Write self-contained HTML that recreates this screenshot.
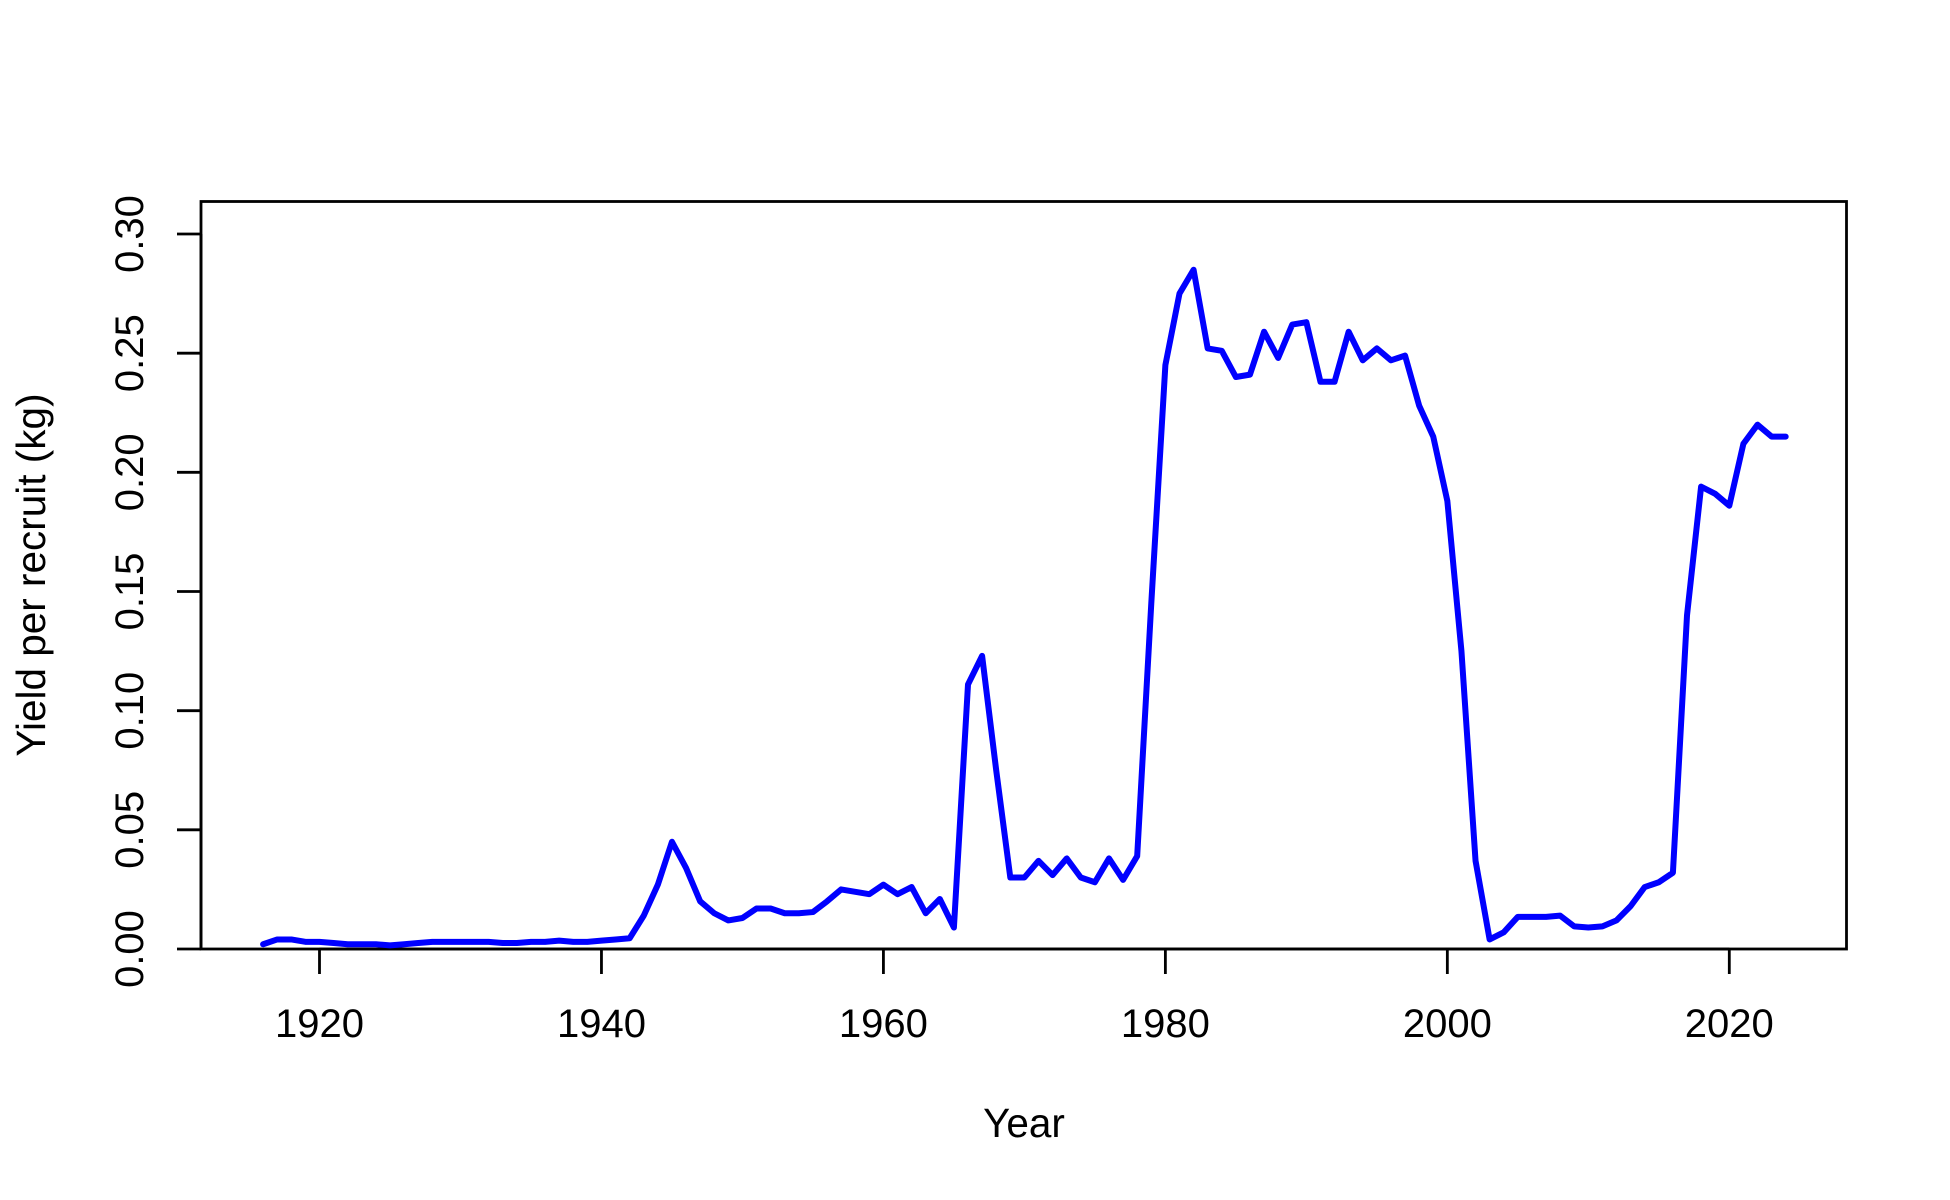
<!DOCTYPE html>
<html><head><meta charset="utf-8"><style>
html,body{margin:0;padding:0;background:#fff;}
svg{display:block;font-family:"Liberation Sans",Arial,sans-serif;}
</style></head><body>
<svg id="chart" width="1950" height="1200" viewBox="0 0 1950 1200" xmlns="http://www.w3.org/2000/svg">
<rect x="201" y="201.5" width="1645.5" height="747.5" fill="none" stroke="#000" stroke-width="2.8"/>
<g id="xaxis"></g>
<g id="yaxis"></g>
<text x="1024" y="1137" font-size="40.5" text-anchor="middle">Year</text>
<text transform="translate(45,575) rotate(-90)" font-size="40.5" text-anchor="middle">Yield per recruit (kg)</text>
<path id="series" fill="none" stroke="#0000ff" stroke-width="6" stroke-linejoin="round" stroke-linecap="round"/>
</svg>
<script>
const startYear = 1916;
const yieldValues = [0.002,0.004,0.004,0.003,0.003,0.0025,0.002,0.002,0.002,0.0015,0.002,0.0025,0.003,0.003,0.003,0.003,0.003,0.0025,0.0025,0.003,0.003,0.0035,0.003,0.003,0.0035,0.004,0.0045,0.014,0.027,0.045,0.034,0.020,0.015,0.012,0.013,0.017,0.017,0.015,0.015,0.0155,0.020,0.025,0.024,0.023,0.027,0.023,0.026,0.015,0.021,0.009,0.111,0.123,0.075,0.030,0.030,0.037,0.031,0.038,0.030,0.028,0.038,0.029,0.039,0.145,0.245,0.275,0.285,0.252,0.251,0.240,0.241,0.259,0.248,0.262,0.263,0.238,0.238,0.259,0.247,0.252,0.247,0.249,0.228,0.215,0.188,0.125,0.037,0.004,0.007,0.0135,0.0135,0.0135,0.014,0.0095,0.009,0.0095,0.012,0.018,0.026,0.028,0.032,0.140,0.194,0.191,0.186,0.212,0.220,0.215,0.215];
const xTicks = [1920,1940,1960,1980,2000,2020];
const yTicks = [0.00,0.05,0.10,0.15,0.20,0.25,0.30];
const yTickLabels = ["0.00","0.05","0.10","0.15","0.20","0.25","0.30"];

function xs(yr){ return 319.5 + (yr-1920)*(1729.3-319.5)/100; }
function ys(v){ return 949 - v*(949-234)/0.30; }
const NS="http://www.w3.org/2000/svg";
const xa=document.getElementById('xaxis'), ya=document.getElementById('yaxis');
let d='';
d+='M'+xs(xTicks[0])+' 949 H'+xs(xTicks[xTicks.length-1]);
xTicks.forEach(t=>{
  d+=' M'+xs(t)+' 949 V974';
  const tx=document.createElementNS(NS,'text');
  
  
  tx.setAttribute('x',xs(t));tx.setAttribute('y',1037);
  tx.setAttribute('font-size','40');tx.setAttribute('text-anchor','middle');
  tx.textContent=t;xa.appendChild(tx);
});
const xp=document.createElementNS(NS,'path');


xp.setAttribute('d',d);xp.setAttribute('stroke','#000');xp.setAttribute('stroke-width','2.8');xp.setAttribute('fill','none');
xa.appendChild(xp);
let dy='M201 '+ys(yTicks[0])+' V'+ys(yTicks[yTicks.length-1]);
yTicks.forEach((t,i)=>{
  dy+=' M201 '+ys(t)+' H177';
  const tx=document.createElementNS(NS,'text');
  
  
  tx.setAttribute('transform','translate(143,'+ys(t)+') rotate(-90)');
  tx.setAttribute('font-size','40');tx.setAttribute('text-anchor','middle');
  tx.textContent=yTickLabels[i];ya.appendChild(tx);
});
const yp=document.createElementNS(NS,'path');


yp.setAttribute('d',dy);yp.setAttribute('stroke','#000');yp.setAttribute('stroke-width','2.8');yp.setAttribute('fill','none');
ya.appendChild(yp);
document.getElementById('series').setAttribute('d',
  yieldValues.map((v,i)=>(i?'L':'M')+xs(startYear+i).toFixed(2)+' '+ys(v).toFixed(2)).join(' '));
</script>
</body></html>
